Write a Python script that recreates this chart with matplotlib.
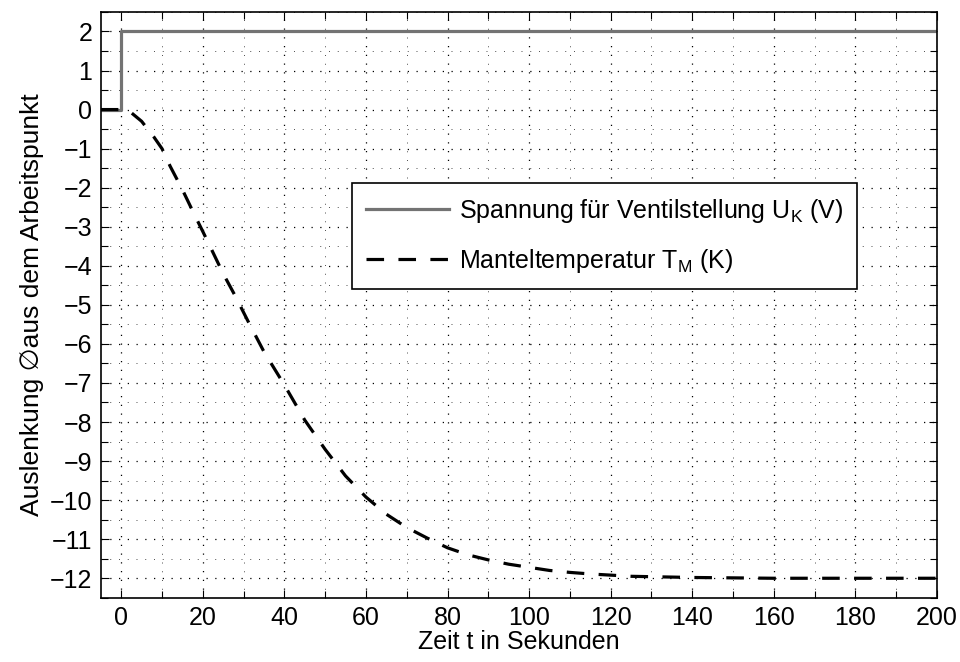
"""
Sprungantwort: Ventilspannung und Manteltemperatur.
"""
import matplotlib
matplotlib.use("Agg")
import matplotlib.pyplot as plt
from matplotlib.ticker import MultipleLocator

plt.rcParams['font.family'] = ['Liberation Sans', 'DejaVu Sans']
plt.rcParams['mathtext.fontset'] = 'custom'
plt.rcParams['mathtext.rm'] = 'Liberation Sans'
plt.rcParams['mathtext.it'] = 'Liberation Sans'

FS = 18

# Spannung fuer Ventilstellung (Sprung bei t=0)
t_u = [-5, 0, 0, 200]
u_k = [0, 0, 2, 2]

# Manteltemperatur
t_m = [-5, 0, 2, 5, 8, 10, 12, 15, 18, 20, 22, 25, 28, 31, 35, 40, 45, 50,
       55, 60, 65, 70, 75, 80, 85, 90, 95, 100, 105, 110, 115, 120, 125,
       130, 140, 150, 160, 170, 180, 190, 200]
temp_m = [0, 0, -0.04, -0.3, -0.7, -1.0, -1.45, -2.05, -2.7, -3.12, -3.55,
          -4.2, -4.78, -5.4, -6.2, -7.05, -7.95, -8.7, -9.38, -9.92, -10.36,
          -10.7, -10.97, -11.22, -11.4, -11.53, -11.64, -11.72, -11.8,
          -11.85, -11.89, -11.92, -11.95, -11.96, -11.98, -11.99, -12.0,
          -12.0, -12.0, -12.0, -12.0]

x_ticks = list(range(0, 201, 20))
y_ticks = list(range(-12, 3))


def main():
    fig = plt.figure(figsize=(9.6, 6.62), dpi=100)
    ax = fig.add_axes([0.105, 0.097, 0.871, 0.885])

    ax.plot(t_u, u_k, color='0.45', lw=2.3,
            label=r'Spannung für Ventilstellung U$_\mathregular{K}$ (V)')
    ax.plot(t_m, temp_m, color='black', lw=2.3, dashes=(5.5, 4.5),
            label=r'Manteltemperatur T$_\mathregular{M}$ (K)')

    ax.set_xlim(-5, 200)
    ax.set_ylim(-12.5, 2.5)
    ax.set_xticks(x_ticks)
    ax.set_yticks(y_ticks)
    ax.xaxis.set_minor_locator(MultipleLocator(10))
    ax.yaxis.set_minor_locator(MultipleLocator(0.5))
    ax.tick_params(which='both', direction='in', top=True, right=True,
                   labelsize=FS, width=0.8)
    ax.tick_params(which='major', length=6, pad=6)
    ax.tick_params(which='minor', length=5)

    ax.grid(which='major', color='black', lw=0.9, linestyle=(0, (1, 6)))
    ax.grid(which='minor', color='0.3', lw=0.7, linestyle=(0, (1, 8)))
    for s in ax.spines.values():
        s.set_linewidth(1.2)

    ax.set_xlabel('Zeit t in Sekunden', fontsize=FS, labelpad=0)
    ax.set_ylabel('Auslenkung \u2205aus dem Arbeitspunkt', fontsize=19,
                  labelpad=4)

    leg = ax.legend(loc='upper left', bbox_to_anchor=(0.301, 0.708),
                    borderaxespad=0, fontsize=FS, fancybox=False,
                    edgecolor='black', framealpha=1, handlelength=3.3,
                    handletextpad=0.4, borderpad=0.55, labelspacing=0.9)
    leg.get_frame().set_linewidth(1.2)

    fig.savefig('out.png', dpi=100)


if __name__ == '__main__':
    main()
